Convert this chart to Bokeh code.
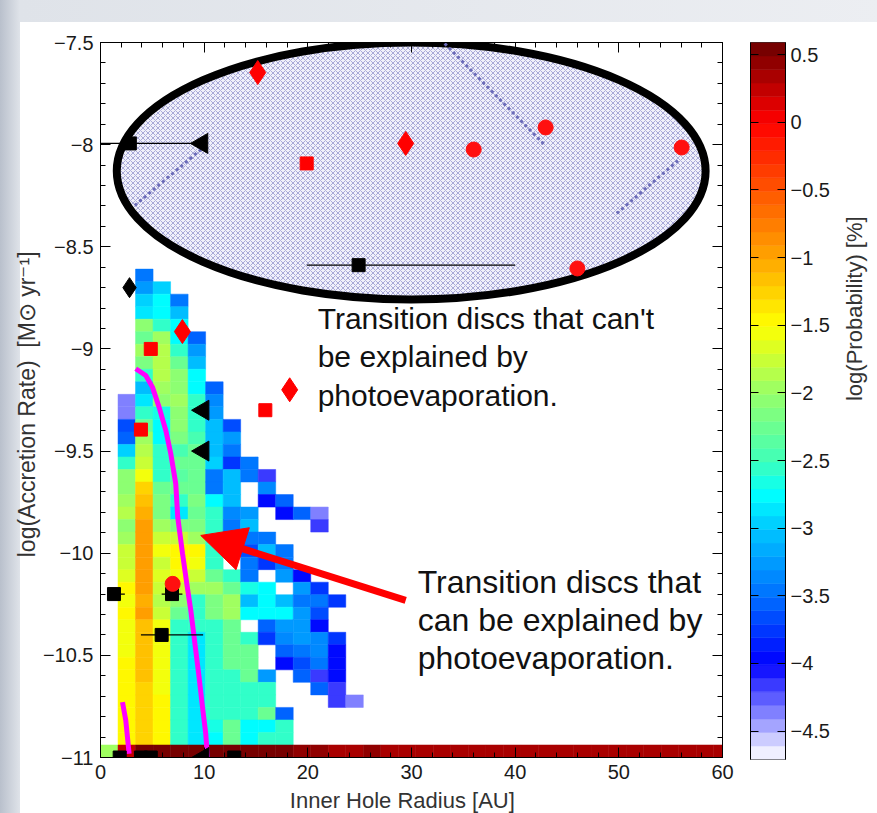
import numpy as np
from bokeh.plotting import figure
from bokeh.models import (Range1d, LinearAxis, FixedTicker, ColumnDataSource, CustomJSTickFormatter,
                          LinearColorMapper, Arrow, NormalHead, Label)
from bokeh.layouts import row
from bokeh.transform import transform
from bokeh.embed import file_html
from bokeh.resources import INLINE

# ------------------------------------------------------------------ data
X_TICKS = [0, 10, 20, 30, 40, 50, 60]
X_MINOR = [2, 4, 6, 8, 12, 14, 16, 18, 22, 24, 26, 28, 32, 34, 36, 38, 42, 44, 46, 48, 52, 54, 56, 58]
Y_TICKS = [-7.5, -8.0, -8.5, -9.0, -9.5, -10.0, -10.5, -11.0]
Y_TICK_LABELS = ["\u22127.5", "\u22128", "\u22128.5", "\u22129", "\u22129.5", "\u221210", "\u221210.5", "\u221211"]
Y_MINOR = [-7.6, -7.7, -7.8, -7.9, -8.1, -8.2, -8.3, -8.4, -8.6, -8.7, -8.8, -8.9, -9.1, -9.2, -9.3, -9.4,
           -9.6, -9.7, -9.8, -9.9, -10.1, -10.2, -10.3, -10.4, -10.6, -10.7, -10.8, -10.9]
CB_TICKS = [0.5, 0.0, -0.5, -1.0, -1.5, -2.0, -2.5, -3.0, -3.5, -4.0, -4.5]
CB_TICK_LABELS = ["0.5", "0", "\u22120.5", "\u22121", "\u22121.5", "\u22122", "\u22122.5", "\u22123", "\u22123.5", "\u22124", "\u22124.5"]
CB_LOW, CB_HIGH = -4.71, 0.59

# histogram bins: columns of width BIN_DX from x=0; rows of height BIN_DY from y=-11
BIN_DX = 1.69
BIN_DY = 0.0613
_ = None
# log(probability) per column, listed from the top row (r0, y~-8.64) down to r37 (just above the bottom band)
col_01 = [_, _, _, _, _, _, _, _, _, _, -4.4, -4.4, -3.7, -3.6, -2.95, -2.55, -2.1, -2.1, -2.0, -1.9,
          -2.1, -2.0, -1.75, -1.75, -1.7, -1.5, -1.55, -1.5, -1.55, -1.6, -1.55, -1.5, -1.5, -1.5, -1.45, -1.45, -1.45, -1.45]
col_02 = [-3.5, -3.3, -3.0, -2.85, -2.1, -2.3, -2.0, -2.2, -2.55, -3.1, -2.85, -2.55, -2.3, -2.0, -1.9, -1.75, -1.6, -1.25, -1.2, -1.05,
          -1.0, -1.0, -1.0, -1.0, -1.0, -1.0, -1.05, -1.0, -1.15, -1.15, -1.15, -1.2, -1.2, -1.25, -1.25, -1.25, -1.25, -1.25]
col_03 = [_, -3.0, -2.8, -2.8, -2.55, -2.0, -1.9, -1.85, -1.9, -2.0, -2.1, -2.7, -2.8, -2.8, -2.55, -2.55, -2.55, -2.3, -2.2, -2.2,
          -2.0, -1.75, -1.6, -1.75, -1.7, -1.75, -1.85, -1.75, -1.6, -1.6, -1.6, -1.6, -1.6, -1.6, -1.5, -1.5, -1.5, -1.5]
col_04 = [_, _, -3.5, -3.05, -2.8, -2.8, -2.55, -2.3, -2.1, -2.1, -2.0, -2.1, -2.1, -2.2, -2.5, -2.3, -2.4, -2.3, -2.55, -2.9,
          -2.2, -1.75, -1.5, -1.5, -1.6, -1.75, -2.1, -2.3, -2.55, -2.55, -2.55, -2.55, -2.55, -2.55, -2.55, -2.55, -2.55, -2.55]
col_05 = [_, _, _, _, _, -3.6, -3.3, -3.05, -2.8, -2.8, -2.55, -2.55, -2.55, -2.5, -2.3, -2.3, -2.3, -2.3, -2.2, -2.3,
          -2.2, -2.0, -1.5, -1.55, -1.75, -2.0, -2.6, -2.6, -2.6, -2.85, -2.85, -2.85, -2.85, -2.85, -2.85, -2.85, -2.85, -2.85]
col_06 = [_, _, _, _, _, _, _, _, _, -3.6, -3.4, -3.25, -3.05, -3.05, -3.05, -3.0, -3.5, -3.5, -2.8, -2.55,
          -2.55, -2.55, -2.55, -2.55, -2.3, -2.0, -2.2, -2.2, -2.55, -2.55, -2.55, -2.55, -2.55, -2.55, -2.55, -2.55, -2.7, -2.8]
col_07 = [_, _, _, _, _, _, _, _, _, _, _, _, -3.7, -3.3, -3.5, -3.75, -3.1, -3.1, -3.1, -3.4,
          -3.5, -3.6, -3.4, _, -2.55, -2.3, -2.0, -2.0, -2.3, -2.3, -2.3, -2.3, -2.55, -2.55, -2.55, -2.55, -2.3, -2.3]
col_08 = [_, _, _, _, _, _, _, _, _, _, _, _, _, _, _, -3.5, -3.5, _, _, -3.25,
          -3.1, -3.5, -3.7, -3.5, -3.5, -2.7, -3.05, -2.8, _, -2.55, -2.3, -2.3, -2.3, -2.55, -2.55, -2.55, -2.8, -2.8]
col_09 = [_, _, _, _, _, _, _, _, _, _, _, _, _, _, _, _, -4.2, -3.4, -4.0, _,
          _, -3.5, -3.1, -3.75, _, -2.8, -2.8, -2.8, -3.6, -3.8, _, _, -3.3, -2.55, -2.55, -2.3, -2.8, -2.55]
col_10 = [_, _, _, _, _, _, _, _, _, _, _, _, _, _, _, _, _, _, -3.6, -4.0,
          _, _, -3.5, -3.5, -3.25, _, -3.05, -2.8, -3.25, -3.4, -3.6, -4.0, _, _, _, -3.6, -2.55, -2.55]
col_11 = [_, _, _, _, _, _, _, _, _, _, _, _, _, _, _, _, _, _, _, -3.6,
          _, _, _, _, -4.0, -3.3, -3.5, -3.3, -3.3, -3.25, -3.5, -3.7, -3.6, _, _, _, _, _]
col_12 = [_, _, _, _, _, _, _, _, _, _, _, _, _, _, _, _, _, _, _, -4.4,
          -4.2, _, _, _, _, -3.75, -3.5, -3.7, -4.0, -3.4, -3.4, -3.5, -4.2, -3.6, _, _, _, _]
col_13 = [_, _, _, _, _, _, _, _, _, _, _, _, _, _, _, _, _, _, _, _,
          _, _, _, _, _, _, -3.75, _, _, -3.75, -4.0, -4.0, -4.0, -4.2, -4.2, _, _, _]
col_14 = [_, _, _, _, _, _, _, _, _, _, _, _, _, _, _, _, _, _, _, _,
          _, _, _, _, _, _, _, _, _, _, _, _, _, _, -4.4, _, _, _]
HEAT_COLUMNS = {1: col_01, 2: col_02, 3: col_03, 4: col_04, 5: col_05, 6: col_06, 7: col_07,
                8: col_08, 9: col_09, 10: col_10, 11: col_11, 12: col_12, 13: col_13, 14: col_14}
# bottom row (y = -11) for columns 0..35
band_row = [-2.0, 0.2, 0.52, 0.52, 0.5, 0.52, 0.52, 0.5, 0.52, 0.5, 0.5, 0.48, 0.4, 0.38, 0.38, 0.4, 0.38, 0.38,
            0.36, 0.38, 0.38, 0.36, 0.38, 0.38, 0.36, 0.38, 0.38, 0.36, 0.38, 0.38, 0.36, 0.38, 0.38, 0.36, 0.38, 0.38]

# photoevaporation tracks (magenta)
track1_x = [3.40, 4.37, 5.01, 5.65, 6.30, 6.78, 7.26, 7.45, 7.91, 8.32, 8.71, 9.19, 9.51, 9.84, 10.15, 10.32]
track1_y = [-9.097, -9.130, -9.187, -9.285, -9.399, -9.513, -9.660, -9.823, -10.001, -10.148, -10.280, -10.476,
            -10.607, -10.754, -10.882, -11.0]
track2_x = [2.12, 2.44, 2.76]
track2_y = [-10.729, -10.819, -10.982]

# observed discs
black_sq_x = [2.83, 24.9, 1.3, 6.9, 5.9, 1.85, 3.9, 4.85, 12.9]
black_sq_y = [-7.994, -8.59, -10.2, -10.2, -10.4, -11.0, -11.0, -11.0, -11.0]
err_lo = [0.0, 19.9, 0.8, 5.9, 3.9]
err_hi = [9.79, 40.0, 2.35, 7.9, 9.9]
err_y = [-7.994, -8.59, -10.2, -10.2, -10.4]
black_tri_x = [9.79, 9.9, 9.9, 9.9]
black_tri_y = [-7.994, -9.30, -9.50, -11.0]
black_dia_x = [2.8]
black_dia_y = [-8.70]
red_sq_x = [19.89, 4.85, 15.9, 3.9]
red_sq_y = [-8.092, -9.0, -9.30, -9.395]
red_dia_x = [15.17, 29.44, 7.9, 18.25]
red_dia_y = [-7.647, -7.994, -8.915, -9.2]
red_circ_x = [36.0, 42.94, 56.06, 46.0, 6.96]
red_circ_y = [-8.024, -7.916, -8.014, -8.606, -10.15]

# dotted segments inside the highlighted ellipse
dots_x0 = [3.3, 33.2, 49.8]
dots_y0 = [-8.298, -7.505, -8.337]
dots_x1 = [10.15, 42.9, 55.7]
dots_y1 = [-8.004, -8.004, -8.078]

# ellipse highlighting the discs that cannot be explained
ELLIPSE = dict(x=29.97, y=-8.129, w=56.8, h=1.258)
# arrow
ARROW = dict(x0=29.44, y0=-10.231, x1=9.67, y1=-9.913)
TEXT_CANT = ["Transition discs that can't", "be explained by", "photoevaporation."]
TEXT_CANT_X = 20.95
TEXT_CANT_Y = [-8.851, -9.037, -9.228]
TEXT_CAN = ["Transition discs that", "can be explained by", "photoevaporation."]
TEXT_CAN_X = 30.6
TEXT_CAN_Y = [-10.143, -10.329, -10.515]

# colour palette (stepped, like the colour bar)
STOP_V = [-4.71, -4.6, -4.45, -4.25, -4.0, -3.5, -3.0, -2.75, -2.5, -2.0, -1.5, -1.0, -0.5, 0.0, 0.59]
STOP_C = ["#ffffff", "#dcdcff", "#a0a0ff", "#5a5aff", "#0000ff", "#0070ff", "#00c8ff", "#00ffff",
          "#40ffb8", "#98ff68", "#ffff00", "#ffa400", "#ff5400", "#ff0000", "#6a0000"]
N_LEVELS = 53

# ------------------------------------------------------------------ helpers
def hex2rgb(h):
    return np.array([int(h[i:i + 2], 16) for i in (1, 3, 5)], dtype=float)

stop_rgb = np.array([hex2rgb(c) for c in STOP_C])
edges = np.linspace(CB_LOW, CB_HIGH, N_LEVELS + 1)
mids = 0.5 * (edges[:-1] + edges[1:])
palette = []
for m in mids:
    rgb = [np.interp(m, STOP_V, stop_rgb[:, k]) for k in range(3)]
    palette.append("#%02x%02x%02x" % tuple(int(round(v)) for v in rgb))
mapper = LinearColorMapper(palette=palette, low=CB_LOW, high=CB_HIGH)

FONT = "Liberation Sans"
TXT = "#1a1a1a"
BLANK = CustomJSTickFormatter(code="return ''")
NB = "\u00a0"


def style_axis(ax, ticks, minor, overrides=None, labels=True):
    ax.ticker = FixedTicker(ticks=ticks, minor_ticks=minor)
    ax.major_tick_in = 10
    ax.major_tick_out = 0
    ax.minor_tick_in = 5
    ax.minor_tick_out = 0
    ax.axis_line_color = "black"
    ax.major_tick_line_color = "black"
    ax.minor_tick_line_color = "black"
    ax.major_label_text_font = FONT
    ax.major_label_text_font_size = "20px"
    ax.major_label_text_color = TXT
    ax.major_label_standoff = 7
    ax.axis_label_text_font = FONT
    ax.axis_label_text_font_size = "22px"
    ax.axis_label_text_font_style = "normal"
    ax.axis_label_text_color = "#333333"
    if not labels:
        ax.formatter = BLANK
        ax.major_label_text_color = None
        ax.major_label_standoff = 0
    if overrides:
        ax.major_label_overrides = overrides


# ------------------------------------------------------------------ main figure
p = figure(frame_width=622, frame_height=715, x_range=Range1d(0, 60), y_range=Range1d(-11, -7.5),
           output_backend="svg", toolbar_location=None,
           min_border_left=100, min_border_right=18, min_border_top=42, min_border_bottom=56,
           x_axis_label="Inner Hole Radius [AU]" + NB * 3,
           y_axis_label="log(Accretion Rate)" + NB * 2 + "[M\u2299 yr\u207b\u00b9]" + NB * 2)
p.grid.visible = False
p.outline_line_color = "black"
p.outline_line_width = 1
p.background_fill_color = "white"
p.border_fill_color = None

y_over = {t: l for t, l in zip(Y_TICKS, Y_TICK_LABELS)}
style_axis(p.xaxis[0], X_TICKS, X_MINOR)
p.xaxis[0].axis_label_standoff = 6
style_axis(p.yaxis[0], Y_TICKS, Y_MINOR, y_over)
p.yaxis[0].axis_label_standoff = 0
p.yaxis[0].axis_label_text_font_size = "23px"
top_ax = LinearAxis()
style_axis(top_ax, X_TICKS, X_MINOR, labels=False)
p.add_layout(top_ax, "above")
right_ax = LinearAxis()
style_axis(right_ax, Y_TICKS, Y_MINOR, labels=False)
p.add_layout(right_ax, "right")

# heat map cells
left, right, bottom, top, val = [], [], [], [], []
y_top = -11.0 + 39 * BIN_DY
for c, col in HEAT_COLUMNS.items():
    for r, v in enumerate(col):
        if v is None:
            continue
        t = y_top - r * BIN_DY
        left.append(c * BIN_DX); right.append((c + 1) * BIN_DX)
        top.append(t); bottom.append(t - BIN_DY); val.append(v)
for c, v in enumerate(band_row):
    left.append(c * BIN_DX); right.append((c + 1) * BIN_DX)
    bottom.append(-11.0); top.append(-11.0 + BIN_DY); val.append(v)
heat = ColumnDataSource(dict(left=left, right=right, bottom=bottom, top=top, val=val))
p.quad(left="left", right="right", bottom="bottom", top="top", source=heat,
       fill_color=transform("val", mapper), line_color=transform("val", mapper), line_width=0.5)

# tracks
p.line(track1_x, track1_y, line_color="#ff00ff", line_width=5)
p.line(track2_x, track2_y, line_color="#ff00ff", line_width=5)

# ellipse
p.ellipse(x=[ELLIPSE["x"]], y=[ELLIPSE["y"]], width=[ELLIPSE["w"]], height=[ELLIPSE["h"]],
          fill_color="#f0f0fa", line_color="black", line_width=8,
          hatch_pattern="x", hatch_color="#8080c4", hatch_scale=5, hatch_weight=0.8, hatch_alpha=0.8)
p.segment(x0=dots_x0, y0=dots_y0, x1=dots_x1, y1=dots_y1, line_color="#6a6ab8",
          line_width=3, line_dash="3 3")

# error bars and markers
p.segment(x0=err_lo, y0=err_y, x1=err_hi, y1=err_y, line_color="black", line_width=1.2)
p.scatter(black_tri_x, black_tri_y, marker="triangle", angle=np.pi / 2, size=20, color="black")
p.scatter(black_sq_x, black_sq_y, marker="square", size=13, color="black")
p.scatter(black_dia_x, black_dia_y, marker="diamond", size=20, color="black")
p.scatter(red_sq_x, red_sq_y, marker="square", size=13, color="#ff0000")
p.scatter(red_dia_x, red_dia_y, marker="diamond", size=24, color="#ff0000")
p.scatter(red_circ_x, red_circ_y, marker="circle", size=15, color="#ff1010")

# arrow
p.add_layout(Arrow(end=NormalHead(size=44, fill_color="#ff0000", line_color="#ff0000"),
                   x_start=ARROW["x0"], y_start=ARROW["y0"], x_end=ARROW["x1"], y_end=ARROW["y1"],
                   line_color="#ff0000", line_width=7))

for txt, yy in zip(TEXT_CANT, TEXT_CANT_Y):
    p.add_layout(Label(x=TEXT_CANT_X, y=yy, text=txt, text_font=FONT, text_font_size="30px",
                       text_baseline="middle", text_color="#111111"))
for txt, yy in zip(TEXT_CAN, TEXT_CAN_Y):
    p.add_layout(Label(x=TEXT_CAN_X, y=yy, text=txt, text_font=FONT, text_font_size="32px",
                       text_baseline="middle", text_color="#111111"))

# ------------------------------------------------------------------ colour bar figure
cb = figure(frame_width=35, frame_height=717, x_range=Range1d(0, 1), y_range=Range1d(CB_LOW, CB_HIGH),
            output_backend="svg", toolbar_location=None, x_axis_location=None, y_axis_location="right",
            min_border_left=10, min_border_right=92, min_border_top=40, min_border_bottom=56)
cb.grid.visible = False
cb.outline_line_color = "#333333"
cb.border_fill_color = None
cb.quad(left=0, right=1, bottom=edges[:-1], top=edges[1:], fill_color=palette, line_color=palette,
        line_width=0.5)
cb_over = {t: l for t, l in zip(CB_TICKS, CB_TICK_LABELS)}
ax = cb.yaxis[0]
style_axis(ax, CB_TICKS, [], cb_over)
ax.major_tick_in = 8
ax.major_label_standoff = 5
ax.axis_label = "log(Probability) [%]"
ax.axis_label_standoff = 22
ax.axis_label_orientation = np.pi / 2
lax = LinearAxis()
style_axis(lax, CB_TICKS, [], labels=False)
lax.major_tick_in = 8
cb.add_layout(lax, "left")

layout = row(p, cb, spacing=0, styles={
    "background": "linear-gradient(#ffffff,#ffffff) 20px 22px / 100% 100% no-repeat, "
                  "linear-gradient(90deg, #b9c0cc 0px, #dfe3e9 20px, #eceef2 100%)"})

open("out.html", "w").write(file_html(layout, INLINE))
